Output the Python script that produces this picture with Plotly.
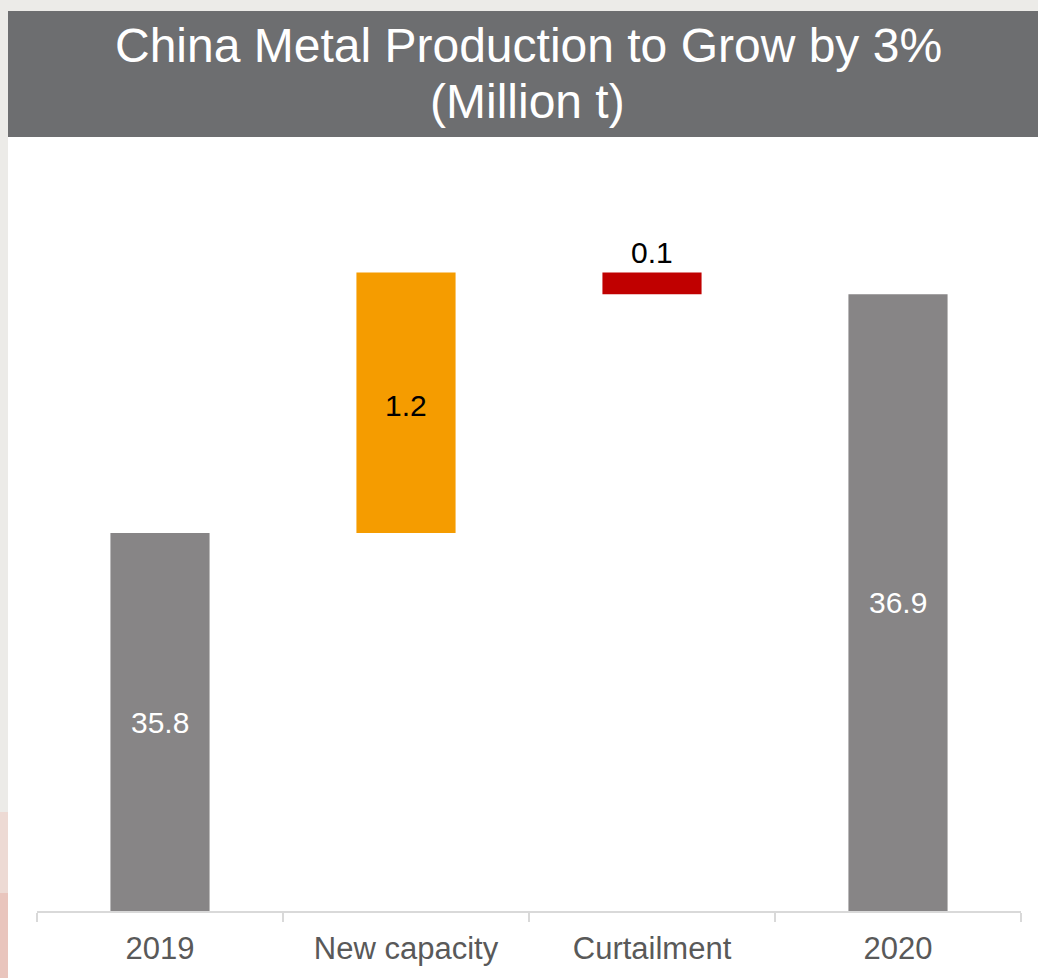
import plotly.graph_objects as go

# Waterfall data (million tonnes)
categories = ["2019", "New capacity", "Curtailment", "2020"]
measures = ["absolute", "relative", "relative", "total"]
values = [35.8, 1.2, -0.1, 0]

# Axis window (the chart shows only the top of the totals)
y_min = 34.058
y_max = 37.519

FONT = "Liberation Sans, Arial, sans-serif"
GREY_BAR = "#878586"
ORANGE = "#F59C00"
RED = "#C00000"
HEADER = "#6D6E70"

W, H = 1038, 978
M_L, M_R, M_T, M_B = 37, 17, 160, 67
PW = W - M_L - M_R
PH = H - M_T - M_B


def px_x(px):
    return (px - M_L) / PW


def px_y(py):
    return (H - M_B - py) / PH


fig = go.Figure()
fig.add_trace(go.Waterfall(
    x=categories,
    y=values,
    measure=measures,
    width=[0.403] * len(categories),
    increasing=dict(marker=dict(color=ORANGE)),
    decreasing=dict(marker=dict(color=RED)),
    totals=dict(marker=dict(color=GREY_BAR)),
    connector=dict(visible=False),
    textposition="none",
    hoverinfo="skip",
))

# Running levels for label placement
levels = []
running = 0.0
for m, v in zip(measures, values):
    start = running
    if m == "absolute":
        start, running = y_min, v
    elif m == "relative":
        running = running + v
    else:
        start = y_min
    levels.append((start, running))

annotations = []
for i, (m, v, (lo, hi)) in enumerate(zip(measures, values, levels)):
    if m in ("absolute", "total"):
        annotations.append(dict(
            x=i, y=(lo + hi) / 2, xref="x", yref="y",
            text=f"{hi:.1f}", showarrow=False,
            font=dict(family=FONT, size=30, color="white"),
            xanchor="center", yanchor="middle",
        ))
    elif v > 0:
        annotations.append(dict(
            x=i, y=(lo + hi) / 2, xref="x", yref="y",
            text=f"{v:.1f}", showarrow=False,
            font=dict(family=FONT, size=30, color="#000000"),
            xanchor="center", yanchor="middle", yshift=-3,
        ))
    else:
        annotations.append(dict(
            x=i, y=max(lo, hi), xref="x", yref="y",
            text=f"{abs(v):.1f}", showarrow=False,
            font=dict(family=FONT, size=30, color="#000000"),
            xanchor="center", yanchor="bottom", yshift=2,
        ))

# Header text, two lines
annotations.append(dict(
    x=px_x(528), y=px_y(45), xref="paper", yref="paper",
    text="China Metal Production to Grow by 3%", showarrow=False,
    font=dict(family=FONT, size=48, color="white"),
    xanchor="center", yanchor="middle",
))
annotations.append(dict(
    x=px_x(527), y=px_y(102), xref="paper", yref="paper",
    text="(Million t)", showarrow=False,
    font=dict(family=FONT, size=48, color="white"),
    xanchor="center", yanchor="middle",
))

shapes = [
    # white card
    dict(type="rect", xref="paper", yref="paper", layer="below",
         x0=px_x(8), x1=px_x(W + 2), y0=px_y(137), y1=px_y(H + 2),
         fillcolor="white", line=dict(width=0)),
    # header band
    dict(type="rect", xref="paper", yref="paper", layer="below",
         x0=px_x(8), x1=px_x(W + 2), y0=px_y(137), y1=px_y(11),
         fillcolor=HEADER, line=dict(width=0)),
    # tinted strips on the left edge
    dict(type="rect", xref="paper", yref="paper", layer="below",
         x0=px_x(-2), x1=px_x(8), y0=px_y(893), y1=px_y(812),
         fillcolor="#EDDAD4", line=dict(width=0)),
    dict(type="rect", xref="paper", yref="paper", layer="below",
         x0=px_x(-2), x1=px_x(8), y0=px_y(H + 2), y1=px_y(893),
         fillcolor="#E9C5BD", line=dict(width=0)),
]

fig.update_layout(
    width=W, height=H,
    margin=dict(l=M_L, r=M_R, t=M_T, b=M_B, pad=0, autoexpand=False),
    paper_bgcolor="#ECEBE8",
    plot_bgcolor="rgba(0,0,0,0)",
    showlegend=False,
    annotations=annotations,
    shapes=shapes,
    xaxis=dict(
        type="category",
        categoryorder="array", categoryarray=categories,
        range=[-0.5, len(categories) - 0.5],
        automargin=False,
        showgrid=False, zeroline=False,
        showline=True, linecolor="#D9D9D9", linewidth=1.5,
        ticks="outside", tickson="boundaries", ticklen=9,
        tickcolor="#D9D9D9", tickwidth=1.5, tickangle=0,
        ticklabelstandoff=9,
        tickfont=dict(family=FONT, size=31, color="#595959"),
        fixedrange=True,
    ),
    yaxis=dict(
        range=[y_min, y_max],
        visible=False, showgrid=False, zeroline=False,
        automargin=False, fixedrange=True,
    ),
)

fig.write_html("out.html", config={"displayModeBar": False})
